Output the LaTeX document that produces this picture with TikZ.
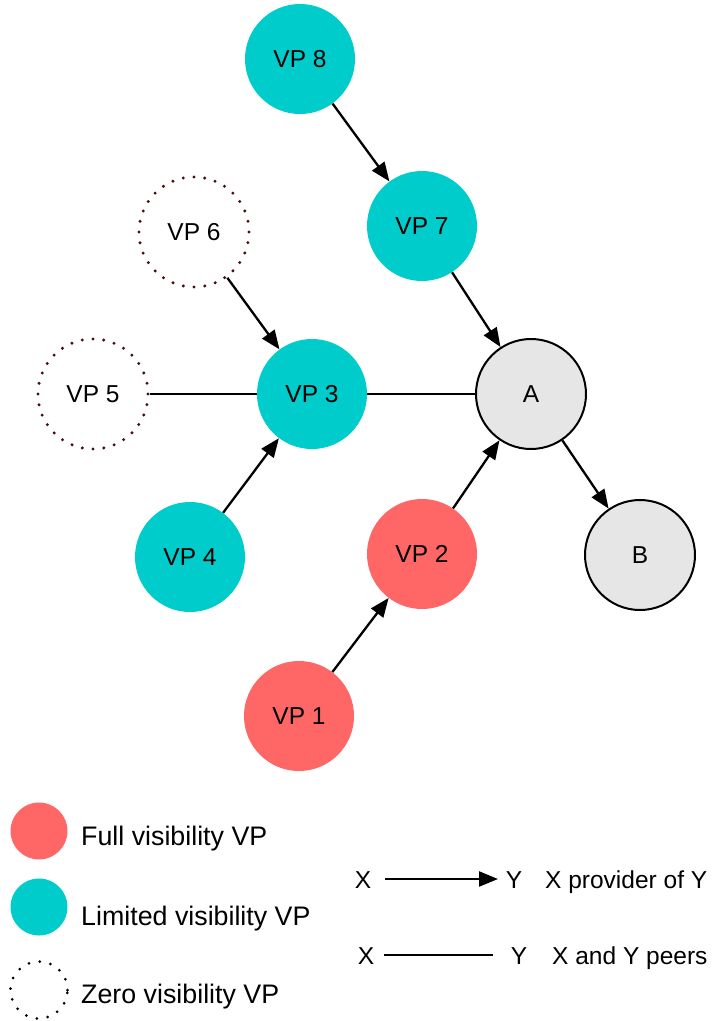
\documentclass[tikz,border=0pt]{standalone}
\usepackage{fontspec}
\setmainfont{Liberation Sans}
\usetikzlibrary{arrows.meta}
\definecolor{vpteal}{RGB}{0,204,204}
\definecolor{vpred}{RGB}{255,102,102}
\definecolor{asgray}{RGB}{230,230,230}
\definecolor{dotbrown}{RGB}{70,15,15}
\begin{document}
\begin{tikzpicture}[x=1pt,y=-1pt,
  every node/.style={font=\fontsize{24.5}{28}\selectfont},
  vp/.style={circle, minimum size=110pt, inner sep=0pt},
  full/.style={vp, fill=vpred},
  limited/.style={vp, fill=vpteal},
  zero/.style={vp, draw=dotbrown, line width=3.3pt, line cap=round, dash pattern=on 0pt off 10.8pt},
  asnode/.style={vp, fill=asgray, draw=black, line width=2pt},
  legdot/.style={circle, minimum size=57pt, inner sep=0pt},
  legtext/.style={anchor=base west, inner sep=0pt, font=\fontsize{26.8}{30}\selectfont},
  keytext/.style={anchor=base, inner sep=0pt},
  prov/.style={line width=2.3pt, -{Triangle[length=19pt,width=15pt]}},
  peer/.style={line width=2.3pt},
]
\useasboundingbox (0,0) rectangle (712,1021);

% Graph nodes
\node[limited] (vp8) at (300,59)  {VP 8};
\node[limited] (vp7) at (422,226) {VP 7};
\node[zero]    (vp6) at (194,232) {VP 6};
\node[zero]    (vp5) at (93,394)  {VP 5};
\node[limited] (vp3) at (312,394) {VP 3};
\node[asnode]  (a)   at (531,394) {A};
\node[limited] (vp4) at (190,557) {VP 4};
\node[full]    (vp2) at (422,554) {VP 2};
\node[asnode]  (b)   at (640,555) {B};
\node[full]    (vp1) at (299,716) {VP 1};

% Provider relations
\draw[prov] (vp8) -- (vp7);
\draw[prov] (vp7) -- (a);
\draw[prov] (vp6) -- (vp3);
\draw[prov] (vp4) -- (vp3);
\draw[prov] (vp2) -- (a);
\draw[prov] (vp1) -- (vp2);
\draw[prov] (a) -- (b);

% Peer relations
\draw[peer] (vp5) -- (vp3);
\draw[peer] (vp3) -- (a);

% Legend: node kinds
\node[legdot, fill=vpred]  (lfull) at (39,831) {};
\node[legdot, fill=vpteal] (llim)  at (39,907) {};
\node[legdot, draw=black, line width=3pt, line cap=round, dash pattern=on 0pt off 11pt] (lzero) at (39,990) {};
\node[legtext] (tfull) at (81,845)  {Full visibility VP};
\node[legtext] (tlim)  at (81,925)  {Limited visibility VP};
\node[legtext] (tzero) at (81,1003) {Zero visibility VP};

% Legend: edge kinds
\node[keytext] (px) at (363,888) {X};
\node[keytext] (py) at (514,888) {Y};
\coordinate (ps) at (385,879);
\coordinate (pe) at (498,879);
\draw[prov] (ps) -- (pe);
\node[keytext, anchor=base west] (ptext) at (545,888) {X provider of Y};

\node[keytext] (qx) at (366,964) {X};
\node[keytext] (qy) at (519,964) {Y};
\coordinate (qs) at (384,955);
\coordinate (qe) at (493,955);
\draw[peer] (qs) -- (qe);
\node[keytext, anchor=base west] (qtext) at (552,964) {X and Y peers};
\end{tikzpicture}
\end{document}
